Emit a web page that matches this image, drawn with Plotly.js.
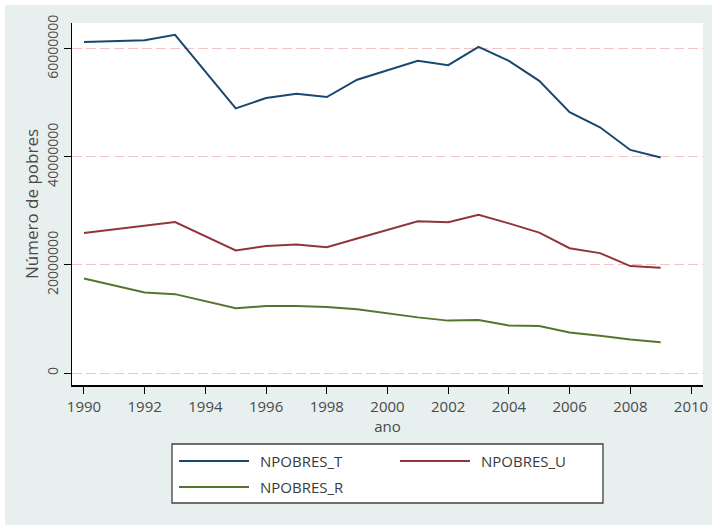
<!DOCTYPE html>
<html>
<head>
<meta charset="utf-8">
<script src="https://cdn.plot.ly/plotly-3.0.1.min.js"></script>
<style>
html,body{margin:0;padding:0;background:#ffffff;width:712px;height:525px;overflow:hidden;}
#chart{position:absolute;left:5px;top:5px;width:707px;height:520px;}
</style>
</head>
<body>
<div id="chart"></div>
<script>
// Data
const years = [1990, 1992, 1993, 1995, 1996, 1997, 1998, 1999, 2001, 2002, 2003, 2004, 2005, 2006, 2007, 2008, 2009];
const npobresT = [61.3, 61.6, 62.6, 49.0, 50.9, 51.7, 51.1, 54.3, 57.8, 57.0, 60.4, 57.8, 54.1, 48.3, 45.5, 41.3, 39.9].map(v => v * 1e6);
const npobresU = [25.9, 27.35, 27.96, 22.7, 23.5, 23.8, 23.3, 24.9, 28.1, 27.9, 29.3, 27.7, 26.0, 23.1, 22.2, 19.8, 19.5].map(v => v * 1e6);
const npobresR = [17.5, 14.9, 14.6, 12.0, 12.4, 12.4, 12.2, 11.8, 10.3, 9.7, 9.8, 8.8, 8.7, 7.5, 6.9, 6.2, 5.7].map(v => v * 1e6);
const seriesNames = ["NPOBRES_T", "NPOBRES_U", "NPOBRES_R"];
const seriesColors = ["#1a476f", "#90353b", "#55752f"];
const yTicks = [0, 20000000, 40000000, 60000000];
const xTicks = [1990, 1992, 1994, 1996, 1998, 2000, 2002, 2004, 2006, 2008, 2010];

const FONT = '"Open Sans", "Noto Sans", sans-serif';
const seriesValues = [npobresT, npobresU, npobresR];

const traces = seriesValues.map((vals, i) => ({
  type: 'scatter', mode: 'lines', x: years, y: vals, name: seriesNames[i],
  line: {color: seriesColors[i], width: 2}, showlegend: false, hoverinfo: 'x+y'
}));

// custom legend (box, line samples, labels)
const legCols = [[0.1696, 0.2805, 0.2948], [0.5198, 0.6307, 0.6450]];
const legRows = [-0.2099, -0.2818];
const shapes = [{
  type: 'rect', xref: 'paper', yref: 'paper', x0: 0.1585, x1: 0.8415, y0: -0.326, y1: -0.163,
  line: {color: '#404040', width: 1.3}, fillcolor: '#ffffff', layer: 'above'
}];
const annotations = [];
seriesNames.forEach((nm, i) => {
  const c = legCols[i % 2], r = legRows[Math.floor(i / 2)];
  shapes.push({type: 'line', xref: 'paper', yref: 'paper', x0: c[0], x1: c[1], y0: r, y1: r,
    line: {color: seriesColors[i], width: 2}, layer: 'above'});
  annotations.push({xref: 'paper', yref: 'paper', x: c[2], y: r, text: nm, showarrow: false,
    xanchor: 'left', yanchor: 'middle', font: {family: FONT, size: 15, color: '#3a3a3a'}});
});

const layout = {
  width: 707, height: 520,
  paper_bgcolor: '#e8f0ef', plot_bgcolor: '#ffffff',
  margin: {l: 67, r: 9, t: 18, b: 140, pad: 0},
  font: {family: FONT, color: '#444444', size: 14},
  showlegend: false,
  xaxis: {
    range: [1989.605, 2010.395], tickvals: xTicks, ticks: 'outside', ticklen: 7, tickcolor: '#000',
    showline: true, linecolor: '#000', linewidth: 1.5, showgrid: false, zeroline: false,
    tickfont: {family: FONT, size: 15, color: '#4a4a4a'},
    title: {text: 'ano', font: {family: FONT, size: 15, color: '#4a4a4a'}, standoff: 1}
  },
  yaxis: {
    range: [-2.22e6, 64.8e6], tickvals: yTicks, tickformat: 'd', tickangle: -90,
    ticks: 'outside', ticklen: 7, tickcolor: '#000',
    showline: true, linecolor: '#000', linewidth: 1.5, zeroline: false,
    showgrid: true, gridcolor: '#f2c4c4', gridwidth: 1, griddash: '10px,4px',
    tickfont: {family: FONT, size: 14, color: '#4a4a4a'},
    title: {text: 'Número de pobres', font: {family: FONT, size: 17, color: '#4a4a4a'}, standoff: 0}
  },
  shapes: shapes,
  annotations: annotations
};

Plotly.newPlot('chart', traces, layout, {displayModeBar: false, staticPlot: true});
</script>
</body>
</html>
